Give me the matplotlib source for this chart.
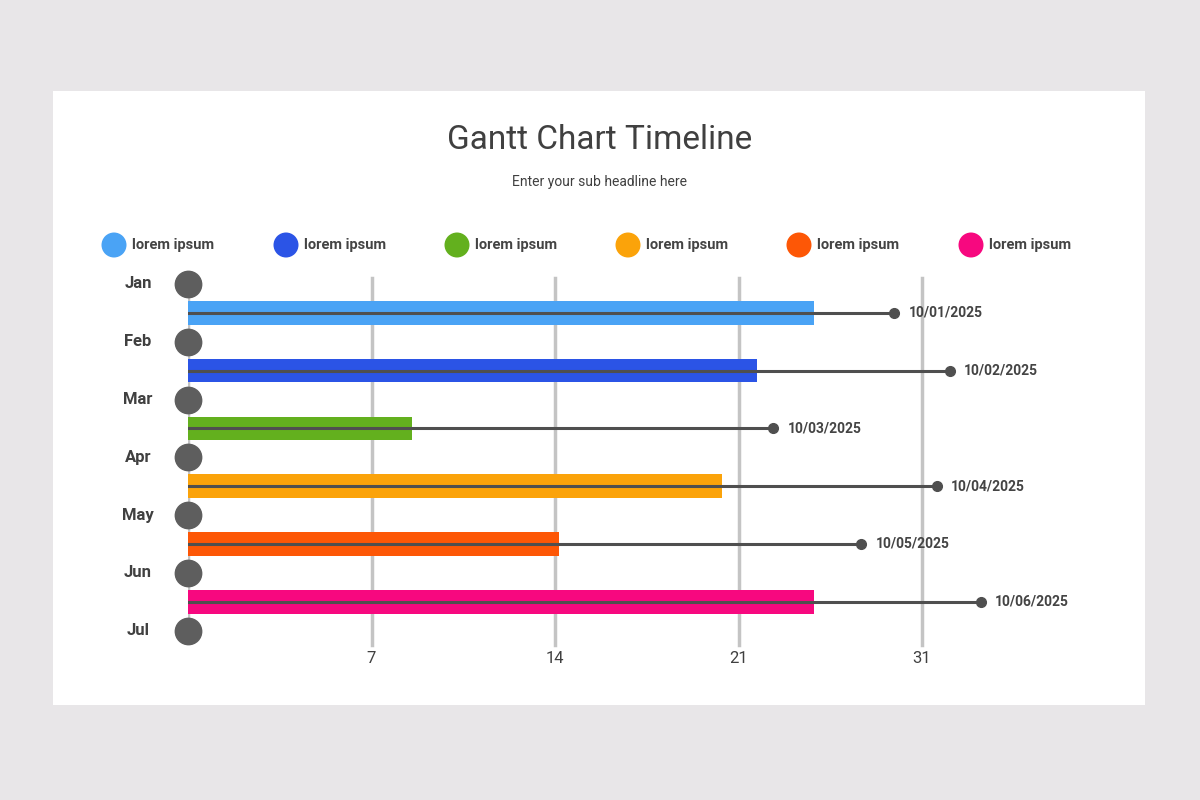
import matplotlib.pyplot as plt
from matplotlib.patches import Rectangle, Circle

months = ["Jan", "Feb", "Mar", "Apr", "May", "Jun", "Jul"]
tick_labels = ["7", "14", "21", "31"]
bar_end = [3.41, 3.10, 1.22, 2.91, 2.02, 3.41]      # in tick units
line_end = [3.85, 4.15, 3.19, 4.08, 3.67, 4.32]
dates = ["10/01/2025", "10/02/2025", "10/03/2025", "10/04/2025", "10/05/2025", "10/06/2025"]
colors = ["#4aa3f5", "#2b54e6", "#63b01e", "#fba30a", "#fd5706", "#f7087f"]
legend_labels = ["lorem ipsum"] * 6

plt.rcParams['font.family'] = ['Roboto', 'DejaVu Sans']
fig = plt.figure(figsize=(12, 8), dpi=100, facecolor="#e8e6e8")

# white card
fig.patches.append(Rectangle((53 / 1200, 1 - 705 / 800), 1092 / 1200, 614 / 800,
                             transform=fig.transFigure, facecolor="white", edgecolor="none", zorder=-5))
fig.text(0.5, 1 - 140 / 800, "Gantt Chart Timeline", ha="center", va="center", fontsize=24, color="#404040")
fig.text(0.5, 1 - 182 / 800, "Enter your sub headline here", ha="center", va="center", fontsize=10, color="#404040")

# legend
lx = [114, 286, 457, 628, 799, 971]
for x, c, lab in zip(lx, colors, legend_labels):
    fig.patches.append(Circle((x / 100, 8 - 245 / 100), 0.125, transform=fig.dpi_scale_trans,
                              facecolor=c, edgecolor="none"))
    fig.text((x + 18) / 1200, 1 - 245 / 800, lab, ha="left", va="center", fontsize=10.5,
             fontweight="bold", color="#444444")

ax = fig.add_axes([188 / 1200, 0.19, (1100 - 188) / 1200, 0.4767])
ax.set_zorder(5)
ax.patch.set_visible(False)
ax.set_xlim(0, 4.97)
ax.set_ylim(6.3, -0.3)
ax.axis("off")

for i in range(1, 5):
    ax.plot([i, i], [-0.1, 6.25], color="#c4c4c4", lw=2.5, zorder=1)
ax.plot([0, 0], [0, 6], color="#c4c4c4", lw=2.5, zorder=1)

for i in range(6):
    y = i + 0.5
    ax.barh(y, bar_end[i], height=0.41, left=0, color=colors[i], zorder=2)
    ax.plot([0, line_end[i]], [y, y], color="#4f4f4f", lw=2.2, zorder=3)
    ax.plot(line_end[i], y, "o", color="#4f4f4f", ms=7, zorder=3)
    ax.annotate(dates[i], (line_end[i], y), xytext=(14, 0), textcoords="offset pixels",
                va="center", fontsize=10, fontweight="bold", color="#444444")

for i, m in enumerate(months):
    ax.plot(0, i, "o", ms=19, color="#5e5e5e", zorder=4, clip_on=False)
    ax.annotate(m, (0, i), xytext=(-50, 0), textcoords="offset pixels", ha="center", va="center",
                fontsize=12, fontweight="bold", color="#404040", annotation_clip=False)

for i, t in enumerate(tick_labels):
    ax.text(i + 1, 6.35, t, ha="center", va="top", fontsize=12, color="#404040", clip_on=False)

fig.savefig("out.png", dpi=100, facecolor=fig.get_facecolor())
